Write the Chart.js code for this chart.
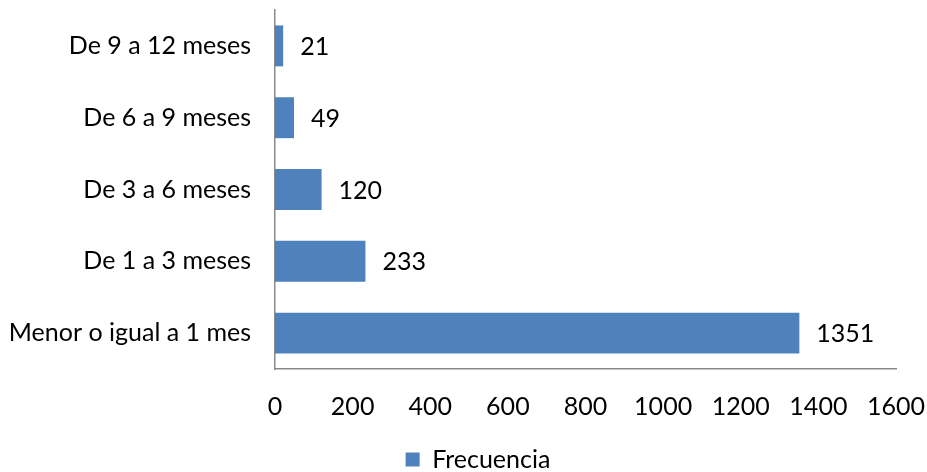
<!DOCTYPE html>
<html><head><meta charset="utf-8">
<script src="https://cdn.jsdelivr.net/npm/chart.js@4"></script>
<style>html,body{margin:0;padding:0;background:#fff}#wrap{width:927px;height:472px}</style>
</head><body><div id="wrap"><canvas id="c" width="927" height="472"></canvas></div>
<script>
const categories = ["De 9 a 12 meses","De 6 a 9 meses","De 3 a 6 meses","De 1 a 3 meses","Menor o igual a 1 mes"];
const frecuencia = [21,49,120,233,1351];
const seriesName = "Frecuencia";
const FONT = "Lato, 'Open Sans', sans-serif";
const FS = 25;

const valueLabels = {
  id:'valueLabels',
  afterLayout(chart){
    if (chart.legend) { chart.legend.left += 30; chart.legend.right += 30; }
  },
  afterDatasetsDraw(chart){
    const ctx = chart.ctx;
    const meta = chart.getDatasetMeta(0);
    ctx.save();
    ctx.font = FS + "px " + FONT;
    ctx.fillStyle = "#000";
    ctx.textAlign = "left";
    ctx.textBaseline = "middle";
    meta.data.forEach((bar,i)=>{
      ctx.fillText(String(frecuencia[i]), bar.x + 17, bar.y + 1);
    });
    ctx.restore();
  }
};

new Chart(document.getElementById('c'), {
  type:'bar',
  data:{labels:categories, datasets:[{label:seriesName, data:frecuencia, backgroundColor:'#4F81BD', borderWidth:0, barPercentage:0.57, categoryPercentage:1}]},
  options:{
    indexAxis:'y', responsive:false, animation:false,
    layout:{padding:{top:10,right:31,left:0,bottom:-10}},
    plugins:{
      legend:{position:'bottom', labels:{font:{family:FONT,size:FS}, color:'#000', boxWidth:14, boxHeight:14, padding:6}},
      tooltip:{enabled:false}
    },
    scales:{
      x:{min:0,max:1600,ticks:{stepSize:200,font:{family:FONT,size:FS},color:'#000',padding:23,callback:v=>String(v)},
         grid:{display:false,drawTicks:false}, border:{color:'#898989',width:1.5},
         afterFit(s){s.height=72;s.paddingLeft=0;s.paddingRight=0;}},
      y:{ticks:{font:{family:FONT,size:FS},color:'#000',padding:24},
         grid:{display:false,drawTicks:false}, border:{color:'#898989',width:1.5},
         afterFit(s){s.width=275;s.paddingTop=0;s.paddingBottom=0;}}
    }
  },
  plugins:[valueLabels]
});
</script></body></html>
